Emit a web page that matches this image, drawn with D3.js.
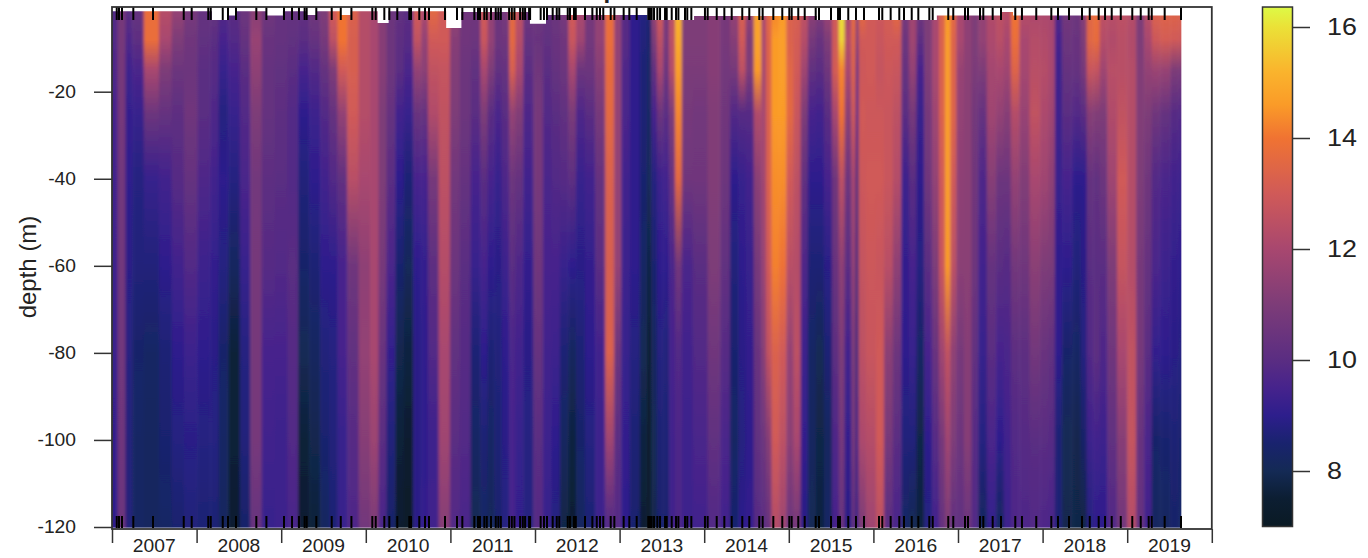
<!DOCTYPE html>
<html>
<head>
<meta charset="utf-8">
<script src="https://cdn.jsdelivr.net/npm/d3@7"></script>
<style>
    html, body { margin: 0; padding: 0; background: #fff; overflow: hidden; }
    text { font-family: "Liberation Sans", Arial, sans-serif; fill: #222; }
    .domain, .tick line { stroke: #333; stroke-width: 1.5; }
</style>
</head>
<body>
<script>
// depth of each temperature reading in a station column (m)
var depthLevels = [-2, -8, -15, -25, -40, -60, -80, -100, -120];

// time of each station column (decimal year)
var stationTimes = [
    2007.00, 2007.02, 2007.11, 2007.21, 2007.27, 2007.48, 2007.63, 2007.78, 2007.92,
    2008.10, 2008.22, 2008.30, 2008.45, 2008.57, 2008.70, 2008.84,
    2009.01, 2009.14, 2009.26, 2009.40, 2009.52, 2009.61, 2009.72, 2009.84, 2009.99,
    2010.11, 2010.19, 2010.30, 2010.40, 2010.50, 2010.62, 2010.69, 2010.78, 2010.94,
    2011.05, 2011.17, 2011.31, 2011.40, 2011.48, 2011.56, 2011.65, 2011.74, 2011.80, 2011.92,
    2012.04, 2012.15, 2012.24, 2012.35, 2012.44, 2012.53, 2012.65, 2012.77, 2012.89, 2012.98,
    2013.06, 2013.18, 2013.30, 2013.35, 2013.40, 2013.48, 2013.55, 2013.62, 2013.69, 2013.78, 2013.95,
    2014.13, 2014.25, 2014.36, 2014.45, 2014.53, 2014.64, 2014.71, 2014.75, 2014.84, 2014.93,
    2015.01, 2015.10, 2015.18, 2015.27, 2015.37, 2015.46, 2015.56, 2015.62, 2015.70, 2015.78, 2015.805, 2015.84, 2015.98,
    2016.08, 2016.17, 2016.29, 2016.37, 2016.47, 2016.55, 2016.65, 2016.74, 2016.81, 2016.88, 2016.94,
    2017.02, 2017.12, 2017.20, 2017.28, 2017.40, 2017.50, 2017.58, 2017.67, 2017.78, 2017.91,
    2018.03, 2018.11, 2018.18, 2018.28, 2018.42, 2018.48, 2018.56, 2018.64, 2018.71, 2018.82, 2018.94,
    2019.06, 2019.15, 2019.25, 2019.33, 2019.45, 2019.57, 2019.64
];

// temperature per station column, one value per depth level
var temperature = [
    // 2007
    [9.6,9.6,9.6,9.4,9.3,9.2,9.2,9.1,9.0],
    [9.8,9.8,9.7,9.5,9.4,9.3,9.2,9.1,9.0],
    [10.8,10.8,10.8,10.8,10.7,10.7,10.7,10.6,10.5],
    [10,9.7,9.3,9.1,9,8.9,8.8,8.7,8.7],
    [10.3,10.1,9.6,9.2,8.8,8.7,8.4,8.3,8.3],
    [13.8,13.8,12,10.5,9.2,8.7,8.3,8.2,8.2],
    [12.3,12,11,10.3,9.4,9,8.6,8.5,8.3],
    [11.5,11,10.5,10.1,9.9,9.4,9,8.8,8.5],
    [10.8,10.6,10.5,10.6,10.3,9.8,9.3,8.9,8.7],
    // 2008
    [10.3,10.2,10,10,9.7,9.3,9,8.8,8.6],
    [10.3,10,9.9,9.7,9.4,9.1,8.9,8.8,8.6],
    [9.8,9.5,9.2,8.8,9,8.8,8.4,8.3,8.2],
    [10,9.8,9.5,9.2,8.8,8.2,7.6,7.6,7.4],
    [10.5,10.3,10,9.8,9.6,9.2,8.8,8.7,8.4],
    [11.3,11.6,11.4,11,10.7,10.8,10.8,10.8,10.4],
    [10.6,10.4,10.3,10.3,10.1,9.9,9.5,9.4,9.2],
    // 2009
    [10.3,10.3,10.2,10.1,10,9.8,9.5,9.3,9.3],
    [10.3,10.2,10,9.8,9.8,10,9.9,9.8,9.6],
    [10.2,10,9.5,9,8.7,8.4,8,7.6,7.5],
    [10.6,10.3,9.8,9.3,9,8.6,8.2,7.9,7.6],
    [11,10.8,10.3,9.8,9.4,9,8.7,8.5,8.2],
    [13,12.5,11,10.3,9.8,9,8.8,8.7,8.6],
    [14,14,13,11.5,10.2,9.5,9.5,9.2,9.2],
    [13.3,13.2,13.2,13,12.4,10.6,10.2,9.9,9.7],
    [12.3,12.3,12.3,12.3,12,11.4,11.5,11.2,10.7],
    // 2010
    [12,12,12,12,12,12,12,11.7,11],
    [11.2,11.2,11.2,11,11,10.8,10.4,10,9.6],
    [10.5,10.5,10.5,10.3,10,9.6,9.1,8.7,8.4],
    [10.2,10.1,10,9.4,9,8.5,7.9,7.6,7.4],
    [10,9.9,9.6,9.2,8.6,8.1,7.7,7.4,7.2],
    [13,12.6,11.5,10.4,9.5,9,8.9,8.9,8.9],
    [12,11.5,11.3,10.3,9.5,9.1,9,9,9.1],
    [13.5,13,12.6,12.2,10.8,10.1,9.8,9.3,9.4],
    [13,13,12.7,12.6,12.5,12.3,12,11.8,11.2],
    // 2011
    [11.5,11.2,11.1,11,10.7,10.5,10.2,10,9.8],
    [10.6,10.6,10.5,10.5,10.3,10,9.9,9.8,9.6],
    [10.6,10.5,10.2,10,9.5,9.2,8.6,8.3,8],
    [13,12.8,12,11,10,9.5,9,8.6,8.3],
    [11.5,11.5,11,10,9.5,9,8.6,8.3,8.1],
    [10.5,10.5,10.2,9.6,9.2,8.9,8.7,8.6,8.5],
    [10.8,10.6,10.3,10,9.7,9.3,9,8.9,8.8],
    [13.6,13.6,13.2,11.5,10.5,10,9.6,9.5,9.5],
    [12.5,12.3,12,11.1,10.3,9.7,9.4,9.2,9.1],
    [10.5,10.3,10,9.7,9.4,9.1,8.9,8.8,8.8],
    // 2012
    [10.5,10.4,10.6,10.8,10.8,10.6,10.3,10,9.9],
    [10.3,10.2,10,9.8,9.6,9.5,9.4,9.3,9.2],
    [10.5,10.4,10.3,10,9.8,9.5,9.3,9,8.8],
    [10.8,10.6,10.5,10.2,9.9,9.2,8.6,8.2,7.8],
    [13,12.8,12,10.9,10.1,9,8.2,7.7,7.5],
    [12,11.8,10.5,9.7,9.2,8.9,8.6,8.4,8.2],
    [10.8,10.7,10.5,10,9.4,9.1,9,8.8,8.6],
    [11.5,11.5,11.2,10.8,10.3,10,9.4,9.3,9.3],
    [13.8,13.8,13.7,13.6,13.3,13.2,13.3,11.8,9.8],
    [11.5,11.5,11.5,11.5,11.5,11.5,10.5,10,9.9],
    // 2013
    [9.9,9.9,9.7,9.6,9.4,9.3,9.2,9.1,9],
    [9,9,9,9,9,9,8.8,8.6,8.5],
    [8.8,8.7,8.6,8.6,8.5,8.3,8,7.7,7.5],
    [8.5,8.4,8.3,8.2,8,7.7,7.4,7.2,7.2],
    [11.5,11,10.2,9.5,8.8,8.5,8.2,8,7.9],
    [13,12.5,12,10.5,9.3,9,8.8,8.6,8.5],
    [10.8,10.8,10.5,10,9.4,9,8.7,8.6,8.5],
    [12.5,12.5,12.3,11,10.3,9.6,9.5,9.4,9.4],
    [15.2,15,14.7,14.3,13.6,10.7,9.8,9.7,9.7],
    [11,11,10.9,10.8,10.6,9.6,9.4,9.3,9.3],
    [11,11,10.9,10.7,10.6,10,9.8,9.6,9.4],
    // 2014
    [11.2,11.2,11.2,11.1,11.1,11,10.6,10.2,9.8],
    [10.8,10.8,10.7,10.6,10.5,10.2,9.9,9.6,9.4],
    [11.5,11.2,10.8,9.8,9,8.7,8.5,8.3,8.5],
    [13.2,13,12.5,9.9,9.2,9,8.9,8.8,9],
    [11.5,11,11,9.9,9.4,9.2,9.1,9,9.1],
    [14.8,14.8,14.6,12.2,11.3,10.8,10.4,10.2,9.9],
    [12,12,11.9,11.9,11.8,11.6,11.2,10.5,10],
    [13.5,13.4,13.4,13.3,13.3,13,12.6,11.2,10.4],
    [14.3,14.6,14.6,14.6,14.4,14.2,13.3,13,12.3],
    [14.6,14.7,14.7,14.6,14.4,13.9,13,12.5,11.8],
    // 2015
    [13.3,13.3,13.5,13.6,13,12.4,11.5,11.3,10.5],
    [13.2,13.1,13,12.8,12.5,12.3,12.5,12,10.8],
    [12.5,12.3,11.8,11,10.2,9.7,9.3,9.1,8.9],
    [11.3,10.8,10.2,9.5,9,8.6,8.3,8.2,8],
    [11,10.4,10,9.4,9,8.6,8,7.8,7.7],
    [11.7,11,10.6,10,9.5,8.9,8.6,8.2,8.3],
    [13,13,13.1,12,10.6,10.4,10.1,9.7,9.5],
    [16,15.8,14.3,14,12.5,11.4,11,10.8,10.4],
    [12,12.3,12,11.3,10.5,10,9.4,9.1,8.9],
    [13.8,13.5,13.4,13,12,11.5,11,10.8,10.2],
    [10.5,10.3,9.2,9,8.8,8.8,8.8,8.9,8.9],
    [13.6,13,12.9,13,12.9,12.7,12.5,12.1,11],
    [13,13,13,12.9,13,12.9,12.8,12.3,11.8],
    // 2016
    [12.9,12.8,12.7,12.9,13,12.8,13,13,12.5],
    [13.1,13,12.9,12.8,12.8,12.4,11.3,10.8,10],
    [13.6,13,12.8,12.5,12.3,11.4,10.5,10,9.6],
    [10.8,10.5,10.3,10,9.3,9.1,9,8.7,8.3],
    [11.8,11.8,11.5,10.8,10,9.5,9.2,8.7,8],
    [10.6,10.1,9.5,9.2,9,8.8,8.3,7.8,7.7],
    [11,11,11,10.8,10.6,10,9.5,9,8.8],
    [12,12,12,11.8,11.5,11,10.4,9.9,9.4],
    [13.3,13.3,13.3,13.3,13,12.8,11.8,10.8,10.3],
    [14.6,14.7,14.7,14.7,14.7,14.6,12.6,11.8,11],
    [13.6,13.4,13.4,13.4,13,12.5,11.4,11,10.2],
    // 2017
    [12,12,11.6,11.5,11.4,11.3,10.8,10.5,10.2],
    [11.4,11.4,11.3,11.3,11.3,11.3,11.2,11.2,10.5],
    [11,11,10.9,10.7,10.6,10.5,10.2,9.9,9.8],
    [11.5,11.5,11,10.3,9.7,9.4,9.2,8.8,8.2],
    [12.2,12.1,11.9,11.8,11.2,10.3,10,9.6,9.1],
    [12.5,12.4,12,11.5,10.5,10,9.5,9,8.2],
    [12.3,12,11.8,11.2,10.5,9.9,9.6,9.4,9.3],
    [14,13.8,13.4,12.3,11.5,10.7,10.1,9.8,9.7],
    [12.3,12,11.9,11.6,11.1,10.6,10.1,9.9,9.7],
    [12.1,12.3,12.4,12.6,12,11.3,10.7,10,9.8],
    // 2018
    [12.1,12.2,12.3,12.1,11.8,11,10.4,10,9.7],
    [12,12,12,11.8,11.4,10.9,10.2,9.9,9.6],
    [9.8,9.5,9.3,9.3,9.2,9,9,8.6,8.6],
    [10.7,10.5,10.3,10,9.5,9,8.4,8,7.9],
    [10.5,10.4,10.3,9.8,9,8.7,8.3,7.9,7.8],
    [11.2,11,10.8,10,9,8.9,8.8,8.4,7.8],
    [13.5,13.5,12.8,11.2,10.3,10,9.8,9.3,8.8],
    [13.8,13.7,12.7,11.1,10.2,10,10.1,9.4,9],
    [12.5,12.3,11.8,11,10.5,10,9.7,9.3,9],
    [12.4,12.2,12.4,12.2,11.8,11,10.6,10.2,9.8],
    [12.5,12.4,12.4,12.6,13,12.7,12,11.2,10.7],
    // 2019
    [12.3,12.2,12.3,12.3,12.3,12.3,12.6,12.7,12.3],
    [11,11,11.1,11.1,11,10.8,10.8,10.4,10.3],
    [12.4,12,11.5,11,10.6,10.3,10,9.6,9.4],
    [13.3,12.9,11.7,10.6,9.8,9.6,9.1,8.4,8.2],
    [13.4,13.1,11.6,10.3,9.6,9.3,9,8.5,8.2],
    [13.4,13,11,9.9,9.4,9.1,8.9,8.6,8.4],
    [13.3,12.9,10.9,9.8,9.3,9,8.8,8.5,8.3]
];

// shallowest reading of the survey from each date on (white notches along the top)
var surfaceTimes = [2007, 2008.18, 2008.37, 2008.47, 2008.83, 2009.02, 2009.30, 2009.41, 2009.70, 2009.82,
    2010.14, 2010.27, 2010.95, 2011.13, 2011.94, 2012.13, 2013.33, 2013.88, 2014.55, 2015.33, 2015.85,
    2016.75, 2017.50, 2017.65, 2019.64];
var surfaceDepths = [-1.5, -3.5, -2.5, -1.5, -2.5, -1.5, -2.4, -1.5, -2.4, -1.5,
    -4.2, -1.5, -5.35, -1.7, -4.4, -2.4, -3.5, -2.6, -2.6, -3.5, -3.5,
    -2.5, -1.7, -2.5, -2.5];

// sampling dates, marked as a rug along top and bottom of the frame
var samplingDates = [
    2007.056, 2007.083, 2007.118, 2007.252, 2007.485, 2007.848, 2007.942,
    2008.138, 2008.167, 2008.309, 2008.371, 2008.466, 2008.706, 2008.825,
    2009.033, 2009.128, 2009.21, 2009.277, 2009.301, 2009.415, 2009.597, 2009.704, 2009.83,
    2010.077, 2010.117, 2010.219, 2010.278, 2010.372, 2010.514, 2010.534, 2010.632, 2010.7, 2010.747, 2010.936,
    2011.078, 2011.141, 2011.283, 2011.326, 2011.35, 2011.401, 2011.43, 2011.48, 2011.536, 2011.567, 2011.596,
    2011.694, 2011.726, 2011.757, 2011.824, 2011.856, 2011.883, 2011.93, 2011.942,
    2012.067, 2012.106, 2012.142, 2012.209, 2012.257, 2012.287, 2012.387, 2012.414, 2012.461, 2012.482,
    2012.591, 2012.678, 2012.73, 2012.768, 2012.807, 2012.895, 2012.938,
    2013.048, 2013.115, 2013.202, 2013.339, 2013.359, 2013.379, 2013.407, 2013.446, 2013.478, 2013.537,
    2013.557, 2013.616, 2013.667, 2013.695, 2013.773, 2013.8, 2013.848,
    2014.009, 2014.041, 2014.148, 2014.238, 2014.325, 2014.45, 2014.533, 2014.651, 2014.691, 2014.817, 2014.923,
    2015.006, 2015.034, 2015.112, 2015.188, 2015.318, 2015.357, 2015.499, 2015.582, 2015.605, 2015.703, 2015.794, 2015.889,
    2016.066, 2016.105, 2016.204, 2016.306, 2016.362, 2016.453, 2016.531, 2016.661, 2016.701, 2016.885, 2016.944,
    2017.083, 2017.118, 2017.26, 2017.299, 2017.41, 2017.508, 2017.677, 2017.756, 2017.925,
    2018.103, 2018.182, 2018.312, 2018.466, 2018.557, 2018.663, 2018.738, 2018.817, 2018.924,
    2019.06, 2019.16, 2019.254, 2019.29, 2019.443, 2019.636
];

// axis ticks
var yearTicks = d3.range(2007, 2021);
var depthTicks = [-20, -40, -60, -80, -100, -120];
var tempTicks = [8, 10, 12, 14, 16];

// colour ramp
var rampValues = [7, 7.5, 8, 8.5, 9, 9.5, 10, 11, 12, 13, 14, 14.6, 15.2, 16, 16.36];
var rampColors = ["#0a1a24", "#0c1e32", "#142a55", "#19236e", "#2d1e8c", "#46238c", "#5a2d82", "#7d3c78", "#a8476f",
    "#d05a58", "#f07332", "#fa9b28", "#fab42d", "#ebe137", "#ddfa46"];

window.onload = setChart();

function setChart(){

    var width = 1368,
        height = 558;

    var svg = d3.select("body")
        .append("svg")
        .attr("width", width)
        .attr("height", height);

    var defs = svg.append("defs");

    // scales
    var x = d3.scaleLinear().domain([2007, 2020]).range([112, 1211.8]);
    var y = d3.scaleLinear().domain([-20, -120]).range([91.7, 527]);
    var barY = d3.scaleLinear().domain([8, 16]).range([471, 27]);
    var color = d3.scaleLinear().domain(rampValues).range(rampColors);

    // one vertical gradient per station column
    var gradY1 = y(depthLevels[0]),
        gradY2 = y(depthLevels[depthLevels.length - 1]);

    var columnGrads = defs.selectAll(".columnGrad")
        .data(temperature)
        .enter()
        .append("linearGradient")
        .attr("class", "columnGrad")
        .attr("id", function(d, i){ return "col" + i; })
        .attr("gradientUnits", "userSpaceOnUse")
        .attr("x1", 0).attr("x2", 0)
        .attr("y1", gradY1).attr("y2", gradY2);

    columnGrads.selectAll("stop")
        .data(function(d){ return d; })
        .enter()
        .append("stop")
        .attr("offset", function(d, i){ return (y(depthLevels[i]) - gradY1) / (gradY2 - gradY1); })
        .attr("stop-color", function(d){ return color(d); });

    // soften the steps between columns, horizontal only
    defs.append("filter")
        .attr("id", "soften")
        .attr("filterUnits", "userSpaceOnUse")
        .attr("x", 0).attr("y", 0)
        .attr("width", width).attr("height", height)
        .append("feGaussianBlur")
        .attr("stdDeviation", "1.8 0");

    // clip to the surveyed part of the water column
    var surfaceArea = d3.area()
        .curve(d3.curveStepAfter)
        .x(function(d){ return x(d); })
        .y0(y(-120.2))
        .y1(function(d, i){ return y(surfaceDepths[i]); });

    defs.append("clipPath")
        .attr("id", "surveyClip")
        .append("path")
        .attr("d", surfaceArea(surfaceTimes));

    // heat map
    var heat = svg.append("g")
        .attr("clip-path", "url(#surveyClip)")
        .append("g")
        .attr("filter", "url(#soften)");

    heat.selectAll(".column")
        .data(stationTimes)
        .enter()
        .append("rect")
        .attr("class", "column")
        .attr("x", function(d, i){
            return i == 0 ? x(d) - 20 : (x(stationTimes[i - 1]) + x(d)) / 2;
        })
        .attr("width", function(d, i){
            var left = i == 0 ? x(d) - 20 : (x(stationTimes[i - 1]) + x(d)) / 2;
            var right = i == stationTimes.length - 1 ? x(d) + 20 : (x(d) + x(stationTimes[i + 1])) / 2;
            return right - left + 0.5;
        })
        .attr("y", y(0))
        .attr("height", y(-120.2) - y(0))
        .attr("fill", function(d, i){ return "url(#col" + i + ")"; });

    // rug of sampling dates
    var rugs = [[7, 20], [516, 528]];
    rugs.forEach(function(r){
        svg.append("g")
            .selectAll("line")
            .data(samplingDates)
            .enter()
            .append("line")
            .attr("x1", function(d){ return x(d); })
            .attr("x2", function(d){ return x(d); })
            .attr("y1", r[0])
            .attr("y2", r[1])
            .attr("stroke", "#000")
            .attr("stroke-width", 2);
    });

    // frame
    svg.append("rect")
        .attr("x", 112).attr("y", 7)
        .attr("width", 1099.8).attr("height", 522)
        .attr("fill", "none")
        .attr("stroke", "#333")
        .attr("stroke-width", 1.8);

    // depth axis, plain hyphen for the minus like the original
    var yAxis = svg.append("g")
        .attr("transform", "translate(112,0)")
        .call(d3.axisLeft(y).tickValues(depthTicks).tickSize(18).tickPadding(18).tickFormat(String));
    yAxis.select(".domain").remove();
    yAxis.selectAll("text").style("font-size", "17.5px");
    stretch(yAxis.selectAll("text"), 1.1);

    // year axis, labels sit between the ticks
    var xAxis = svg.append("g")
        .attr("transform", "translate(0,529)")
        .call(d3.axisBottom(x).tickValues(yearTicks).tickSize(14).tickFormat(""));
    xAxis.select(".domain").remove();

    var yearLabels = svg.append("g")
        .selectAll("text")
        .data(yearTicks.slice(0, -1))
        .enter()
        .append("text")
        .attr("x", function(d){ return x(d + 0.5); })
        .attr("y", 552)
        .attr("text-anchor", "middle")
        .style("font-size", "17.5px")
        .text(function(d){ return d; });
    stretch(yearLabels, 1.1);

    // axis title
    svg.append("text")
        .attr("transform", "translate(36,267) rotate(-90)")
        .attr("text-anchor", "middle")
        .style("font-size", "24px")
        .text("depth (m)");

    // plot title, cut off by the top of the picture
    svg.append("text")
        .attr("x", 556)
        .attr("y", -2)
        .style("font-size", "24px")
        .style("font-weight", "bold")
        .text("Temperature");

    // colour bar
    var barGrad = defs.append("linearGradient")
        .attr("id", "barGrad")
        .attr("gradientUnits", "userSpaceOnUse")
        .attr("x1", 0).attr("x2", 0)
        .attr("y1", barY(rampValues[0]))
        .attr("y2", barY(rampValues[rampValues.length - 1]));

    barGrad.selectAll("stop")
        .data(rampValues)
        .enter()
        .append("stop")
        .attr("offset", function(d){
            return (d - rampValues[0]) / (rampValues[rampValues.length - 1] - rampValues[0]);
        })
        .attr("stop-color", function(d){ return color(d); });

    svg.append("rect")
        .attr("x", 1262.5)
        .attr("y", barY(rampValues[rampValues.length - 1]))
        .attr("width", 30)
        .attr("height", barY(rampValues[0]) - barY(rampValues[rampValues.length - 1]))
        .attr("fill", "url(#barGrad)")
        .attr("stroke", "#333")
        .attr("stroke-width", 1.5);

    var barAxis = svg.append("g")
        .attr("transform", "translate(1292.5,0)")
        .call(d3.axisRight(barY).tickValues(tempTicks).tickSize(17.5).tickPadding(17));
    barAxis.select(".domain").remove();
    barAxis.selectAll("text").style("font-size", "24px");
    stretch(barAxis.selectAll("text"), 1.12);
};

// the picture is a little wider than tall, widen text to match
function stretch(sel, k){
    sel.each(function(){
        d3.select(this)
            .attr("textLength", this.getComputedTextLength() * k)
            .attr("lengthAdjust", "spacingAndGlyphs");
    });
};
</script>
</body>
</html>
